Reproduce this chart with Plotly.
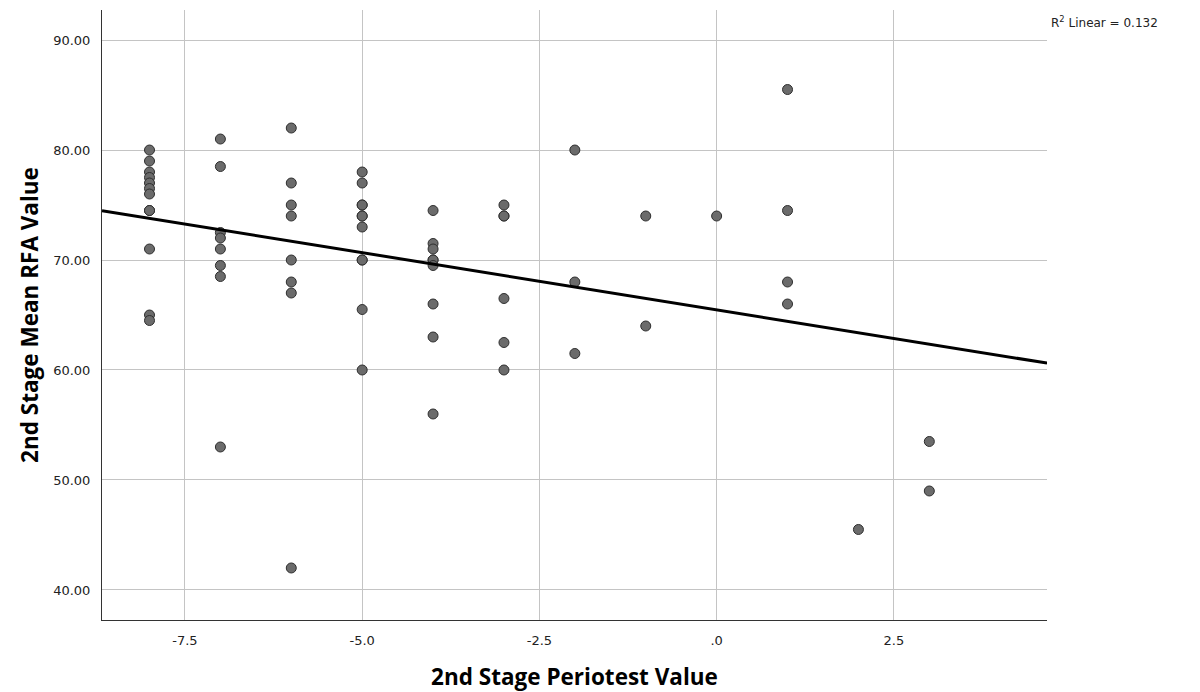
import plotly.graph_objects as go

# Data
periotest_x = (
    [-8] * 12 + [-7] * 8 + [-6] * 8 + [-5] * 11 + [-4] * 9 + [-3] * 6
    + [-2] * 3 + [-1] * 2 + [0] * 1 + [1] * 4 + [2] * 1 + [3] * 2
)
rfa_y = [
    80, 79, 78, 77.5, 77, 76.5, 76, 74.5, 74.5, 71, 65, 64.5,        # -8
    81, 78.5, 72.5, 72, 71, 69.5, 68.5, 53,                          # -7
    82, 77, 75, 74, 70, 68, 67, 42,                                  # -6
    78, 77, 75, 75, 74, 74, 73, 70, 70, 65.5, 60,                    # -5
    74.5, 71.5, 71, 70, 70, 69.5, 66, 63, 56,                        # -4
    75, 74, 74, 66.5, 62.5, 60,                                      # -3
    80, 68, 61.5,                                                    # -2
    74, 64,                                                          # -1
    74,                                                              # 0
    85.5, 74.5, 68, 66,                                              # 1
    45.5,                                                            # 2
    53.5, 49,                                                        # 3
]

fit_intercept = 65.47
fit_slope = -1.04
r_squared = "0.132"

x_range = [-8.67, 4.66]
y_range = [37.27, 92.73]
x_tickvals = [-7.5, -5.0, -2.5, 0.0, 2.5]
x_ticktext = ["-7.5", "-5.0", "-2.5", ".0", "2.5"]
y_tickvals = [40, 50, 60, 70, 80, 90]
y_ticktext = ["40.00", "50.00", "60.00", "70.00", "80.00", "90.00"]

fit_x = x_range
fit_y = [fit_intercept + fit_slope * v for v in fit_x]

fig = go.Figure()
fig.add_trace(go.Scatter(
    x=periotest_x, y=rfa_y, mode="markers",
    marker=dict(size=10, color="#6b6b6b", line=dict(color="#2e2e2e", width=1)),
    showlegend=False, hoverinfo="x+y",
))
fig.add_trace(go.Scatter(
    x=fit_x, y=fit_y, mode="lines",
    line=dict(color="black", width=3),
    showlegend=False, hoverinfo="skip",
))

tick_font = dict(family="DejaVu Sans", size=13, color="#222222")
title_font = dict(family="Open Sans", size=22.5, color="black")

fig.update_layout(
    width=1200, height=692,
    margin=dict(l=94, r=161, t=2, b=80),
    paper_bgcolor="white", plot_bgcolor="white",
    xaxis=dict(
        range=x_range, tickvals=x_tickvals, ticktext=x_ticktext,
        showgrid=True, gridcolor="#c4c4c4", gridwidth=1,
        zeroline=False, showline=True, linecolor="#333333", linewidth=1,
        ticks="", tickfont=tick_font, ticklabelstandoff=8,
        title=dict(text="<b>2nd Stage Periotest Value</b>", font=title_font, standoff=22),
    ),
    yaxis=dict(
        range=y_range, tickvals=y_tickvals, ticktext=y_ticktext,
        showgrid=True, gridcolor="#c4c4c4", gridwidth=1,
        zeroline=False, showline=True, linecolor="#333333", linewidth=1,
        ticks="", tickfont=tick_font, ticklabelstandoff=8,
        title=dict(text="<b>2nd Stage Mean RFA Value</b>", font=title_font, standoff=8),
    ),
    annotations=[dict(
        text="R<sup>2</sup> Linear = " + r_squared,
        xref="paper", yref="paper", x=1.0, y=0.98,
        xanchor="left", yanchor="middle", xshift=2, showarrow=False,
        font=dict(family="DejaVu Sans", size=12, color="#222222"),
    )],
)

fig.write_html("out.html")
